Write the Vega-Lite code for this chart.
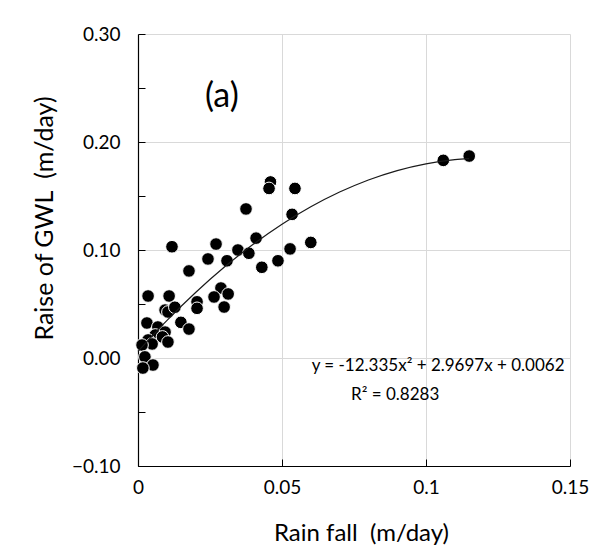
{
  "$schema": "https://vega.github.io/schema/vega-lite/v6.json",
  "width": 432,
  "height": 432,
  "autosize": {"type": "none"},
  "padding": {"left": 138, "top": 34, "right": 35, "bottom": 79},
  "background": "white",
  "config": {"view": {"stroke": null}, "font": "Lato"},
  "layer": [
    {
      "data": {"values": [
        {"rain": 0.106, "gwl": 0.183}, {"rain": 0.115, "gwl": 0.187},
        {"rain": 0.046, "gwl": 0.163}, {"rain": 0.0455, "gwl": 0.157},
        {"rain": 0.0545, "gwl": 0.157}, {"rain": 0.0375, "gwl": 0.138},
        {"rain": 0.0535, "gwl": 0.133}, {"rain": 0.041, "gwl": 0.111},
        {"rain": 0.0347, "gwl": 0.100}, {"rain": 0.0385, "gwl": 0.097},
        {"rain": 0.060, "gwl": 0.107}, {"rain": 0.0528, "gwl": 0.101},
        {"rain": 0.0486, "gwl": 0.090}, {"rain": 0.043, "gwl": 0.084},
        {"rain": 0.0271, "gwl": 0.1055}, {"rain": 0.0243, "gwl": 0.0917},
        {"rain": 0.0309, "gwl": 0.090}, {"rain": 0.0177, "gwl": 0.0806},
        {"rain": 0.0288, "gwl": 0.0648}, {"rain": 0.0313, "gwl": 0.0593},
        {"rain": 0.0264, "gwl": 0.0565}, {"rain": 0.0299, "gwl": 0.0472},
        {"rain": 0.0205, "gwl": 0.052}, {"rain": 0.0205, "gwl": 0.046},
        {"rain": 0.0149, "gwl": 0.033}, {"rain": 0.0177, "gwl": 0.0268},
        {"rain": 0.0118, "gwl": 0.103}, {"rain": 0.0035, "gwl": 0.0574},
        {"rain": 0.0108, "gwl": 0.0574}, {"rain": 0.0094, "gwl": 0.0444},
        {"rain": 0.0104, "gwl": 0.0426}, {"rain": 0.0128, "gwl": 0.047},
        {"rain": 0.0031, "gwl": 0.0324}, {"rain": 0.0069, "gwl": 0.0287},
        {"rain": 0.0094, "gwl": 0.024}, {"rain": 0.006, "gwl": 0.0213},
        {"rain": 0.0085, "gwl": 0.0195}, {"rain": 0.0035, "gwl": 0.0167},
        {"rain": 0.0104, "gwl": 0.0148}, {"rain": 0.0049, "gwl": 0.013},
        {"rain": 0.0014, "gwl": 0.012}, {"rain": 0.0024, "gwl": 0.001},
        {"rain": 0.0052, "gwl": -0.0065}, {"rain": 0.0017, "gwl": -0.0093}
      ]},
      "mark": {"type": "circle", "size": 160, "color": "#000000", "opacity": 1, "stroke": "#ffffff", "strokeWidth": 1},
      "encoding": {
        "x": {
          "field": "rain", "type": "quantitative",
          "scale": {"domain": [0, 0.15], "nice": false, "zero": false},
          "axis": {
            "title": "Rain fall\u00a0 (m/day)",
            "values": [0, 0.05, 0.1, 0.15],
            "format": "~g",
            "labelFontSize": 19, "labelColor": "#000000", "labelPadding": 19,
            "labelFlush": false,
            "tickSize": -7, "tickColor": "#000000",
            "domainColor": "#000000", "domainWidth": 1.2,
            "gridColor": "#d9d9d9",
            "titleFontSize": 24, "titleFontWeight": "normal", "titleColor": "#000000",
            "titleX": 223, "titleY": 74, "titleBaseline": "alphabetic", "titleAlign": "center"
          }
        },
        "y": {
          "field": "gwl", "type": "quantitative",
          "scale": {"domain": [-0.1, 0.3], "nice": false, "zero": false},
          "axis": {
            "title": "Raise of GWL\u00a0 (m/day)",
            "values": [-0.1, -0.05, 0, 0.05, 0.1, 0.15, 0.2, 0.25, 0.3],
            "labelExpr": "abs(round(datum.value*20))%2==1 ? '' : format(datum.value, '.2f')",
            "labelFontSize": 19, "labelColor": "#000000", "labelPadding": 25,
            "labelFlush": false,
            "tickSize": -7, "tickColor": "#000000",
            "domainColor": "#000000", "domainWidth": 1.2,
            "gridColor": "#d9d9d9",
            "gridOpacity": {"condition": {"test": "abs(round(datum.value*20))%2==1", "value": 0}, "value": 1},
            "titleFontSize": 25, "titleFontWeight": "normal", "titleColor": "#000000",
            "titleX": -94, "titleY": 184, "titleBaseline": "middle", "titleAlign": "center"
          }
        }
      }
    },
    {
      "data": {"values": [
        {"rain": 0.0, "gwl": 0.0062}, {"rain": 0.01, "gwl": 0.03466},
        {"rain": 0.02, "gwl": 0.06066}, {"rain": 0.03, "gwl": 0.08419},
        {"rain": 0.04, "gwl": 0.10525}, {"rain": 0.05, "gwl": 0.12385},
        {"rain": 0.06, "gwl": 0.13998}, {"rain": 0.07, "gwl": 0.15364},
        {"rain": 0.08, "gwl": 0.16483}, {"rain": 0.09, "gwl": 0.17356},
        {"rain": 0.10, "gwl": 0.17982}, {"rain": 0.11, "gwl": 0.18361},
        {"rain": 0.115, "gwl": 0.18459}
      ]},
      "mark": {"type": "line", "color": "#1a1a1a", "strokeWidth": 1.2, "interpolate": "monotone"},
      "encoding": {
        "x": {"field": "rain", "type": "quantitative"},
        "y": {"field": "gwl", "type": "quantitative"}
      }
    },
    {
      "data": {"values": [{"rain": 0.0291, "gwl": 0.2417, "label": "(a)"}]},
      "mark": {"type": "text", "fontSize": 34, "color": "#000000", "align": "center", "baseline": "middle"},
      "encoding": {
        "x": {"field": "rain", "type": "quantitative"},
        "y": {"field": "gwl", "type": "quantitative"},
        "text": {"field": "label"}
      }
    },
    {
      "data": {"values": [
        {"rain": 0.1042, "gwl": -0.0074, "label": "y = -12.335x² + 2.9697x + 0.0062"},
        {"rain": 0.0893, "gwl": -0.0343, "label": "R² = 0.8283"}
      ]},
      "mark": {"type": "text", "fontSize": 17, "color": "#000000", "align": "center", "baseline": "middle"},
      "encoding": {
        "x": {"field": "rain", "type": "quantitative"},
        "y": {"field": "gwl", "type": "quantitative"},
        "text": {"field": "label"}
      }
    }
  ]
}
